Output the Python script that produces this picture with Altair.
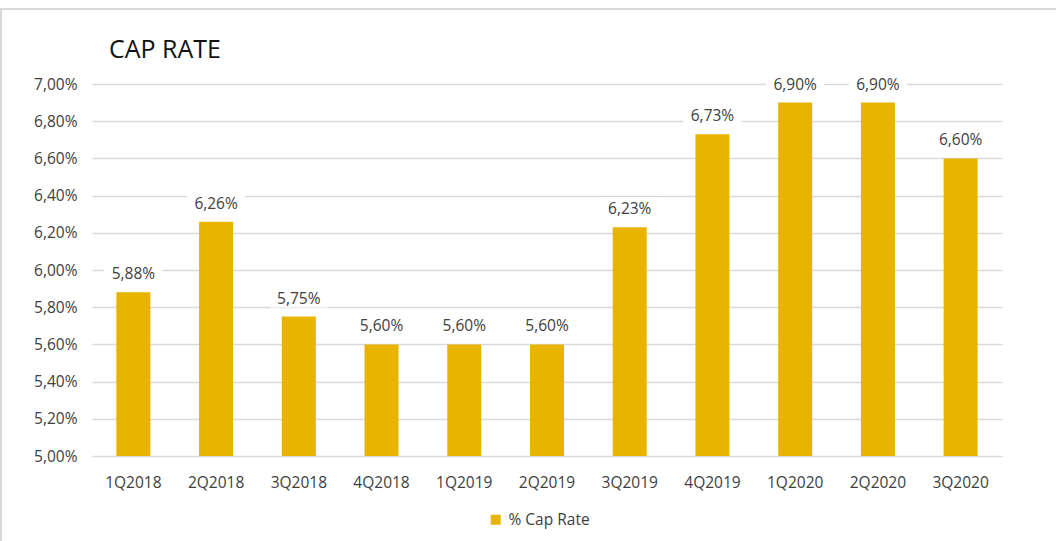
import altair as alt
import pandas as pd

quarters = ["1Q2018", "2Q2018", "3Q2018", "4Q2018", "1Q2019", "2Q2019",
            "3Q2019", "4Q2019", "1Q2020", "2Q2020", "3Q2020"]
cap_rate = [5.88, 6.26, 5.75, 5.60, 5.60, 5.60, 6.23, 6.73, 6.90, 6.90, 6.60]
y_ticks = [5.0, 5.2, 5.4, 5.6, 5.8, 6.0, 6.2, 6.4, 6.6, 6.8, 7.0]
series_name = "% Cap Rate"
title_text = "CAP RATE"

df = pd.DataFrame({"quarter": quarters, "value": cap_rate, "series": series_name})

FONT = "Open Sans"
BAR = "#E8B400"
TXT = "#404040"
GRID = "#d9d9d9"
FS = 15.5

W, H = 910, 372
PL, PT = 92, 84

base = alt.Chart(df).transform_calculate(
    label="replace(format(datum.value, '.2f'), '.', ',') + '%'",
    base_value="5"
)

x = alt.X("quarter:N", sort=quarters, title=None,
          scale=alt.Scale(paddingInner=0.59, paddingOuter=0.295),
          axis=alt.Axis(labelAngle=0, domain=False, ticks=False, labelPadding=19,
                        labelFontSize=FS, labelColor=TXT, labelFont=FONT,
                        labelLimit=0, labelOverlap=False))
y = alt.Y("value:Q", title=None,
          scale=alt.Scale(domain=[5.0, 7.0], nice=False, zero=False),
          axis=alt.Axis(values=y_ticks, tickCount=11, domain=False, ticks=False,
                        labelPadding=15,
                        labelFontSize=FS, labelColor=TXT, labelFont=FONT,
                        labelOverlap=False, labelLimit=0,
                        gridColor=GRID, gridWidth=1.5,
                        labelExpr="replace(format(datum.value, '.2f'), '.', ',') + '%'"))

border = alt.Chart(df).mark_rect(fill=None, stroke=GRID, strokeWidth=2).encode(
    x=alt.value(-PL + 1), x2=alt.value(1056 - PL + 20),
    y=alt.value(-PT + 9), y2=alt.value(541 - PT + 20)
)

bars = base.mark_bar(size=34).encode(
    x=x, y=y, y2="base_value:Q",
    color=alt.Color("series:N", title=None,
                    scale=alt.Scale(range=[BAR]),
                    legend=alt.Legend(orient="none", legendX=396, legendY=428,
                                      symbolType="square", symbolSize=100,
                                      symbolStrokeWidth=0, padding=0,
                                      labelFont=FONT, labelFontSize=FS,
                                      labelColor=TXT, labelOffset=5))
)

label_bg = base.mark_bar(size=58, color="white", yOffset=-30, y2Offset=-9).encode(
    x=x, y=y, y2="value:Q"
)

labels = base.mark_text(baseline="alphabetic", dy=-13, font=FONT, fontSize=FS,
                        color=TXT).encode(
    x=x, y=y, text="label:N"
)

title = alt.Chart(pd.DataFrame({"t": [title_text]})).mark_text(
    align="left", baseline="alphabetic", font=FONT, fontSize=25, color="#111111"
).encode(x=alt.value(109 - PL), y=alt.value(58 - PT), text="t:N")

chart = alt.layer(border, bars, label_bg, labels, title).properties(
    width=W, height=H,
    autosize=alt.AutoSizeParams(type="none"),
    padding={"left": PL, "top": PT, "right": 1056 - PL - W, "bottom": 541 - PT - H},
    background="white"
).configure_view(stroke=None)

chart.save("out.html", embed_options={"renderer": "svg", "actions": False})
